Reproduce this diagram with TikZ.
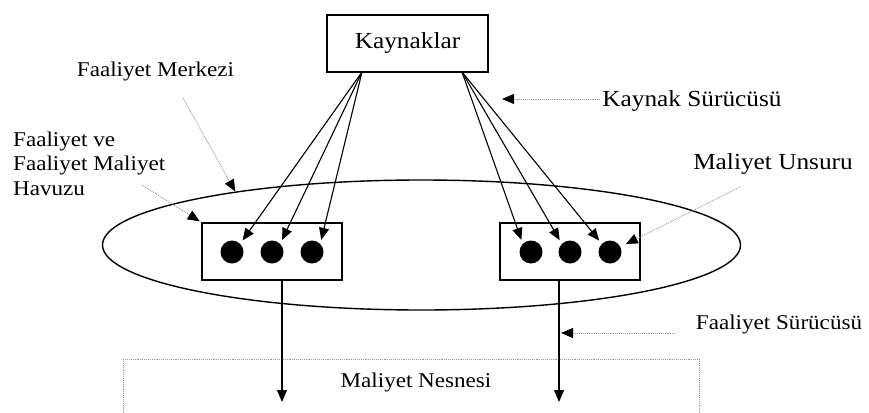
\documentclass[tikz,border=0pt]{standalone}
\usepackage{fontspec}
\setmainfont{Liberation Serif}[FakeStretch=1.1]
\usetikzlibrary{arrows.meta,shapes.geometric}
\begin{document}
\begin{tikzpicture}[x=1pt,y=1pt]
\tikzstyle{every node}+=[inner sep=0pt]
\tikzstyle{kutu}=[draw=black, line width=1.2pt]
\tikzstyle{nokta}=[circle, fill=black, minimum size=23pt]
\tikzstyle{ok}=[black, line width=1.1pt, -{Triangle[length=12pt,width=10pt]}]
\tikzstyle{isaret}=[gray!80, densely dotted, line width=0.9pt, -{Triangle[length=12pt,width=10pt,black]}]
\tikzstyle{buyuk}=[font=\fontsize{23}{27}\selectfont]
\tikzstyle{kucuk}=[font=\fontsize{21}{24.5}\selectfont]
\clip (0,0) rectangle (869,-412);
\fill [white] (0,0) rectangle (869,-412);
% merkez ve havuzlar
\node [ellipse, draw=black, line width=1.4pt, minimum width=638pt, minimum height=130pt] (merkez) at (421.5,-245) {};
\node [kutu, buyuk, minimum width=161pt, minimum height=57pt] (kaynak) at (407.5,-43.5) {Kaynaklar};
\node [kutu, minimum width=140pt, minimum height=57pt] (havuzSol) at (272,-251.5) {};
\node [kutu, minimum width=140pt, minimum height=57pt] (havuzSag) at (570,-251.5) {};
\node [nokta] (sol1) at (232,-252) {};
\node [nokta] (sol2) at (272,-252) {};
\node [nokta] (sol3) at (312,-252) {};
\node [nokta] (sag1) at (531,-252) {};
\node [nokta] (sag2) at (570,-252) {};
\node [nokta] (sag3) at (610,-252) {};
% kaynak suruculeri
\coordinate (kSol) at (362,-72);
\coordinate (kSag) at (462,-72);
\draw [ok, shorten >=4pt] (kSol) -- (sol1.north east);
\draw [ok, shorten >=4pt] (kSol) -- (sol2.north east);
\draw [ok, shorten >=4pt] (kSol) -- (sol3.north east);
\draw [ok, shorten >=4pt] (kSag) -- (sag1.north west);
\draw [ok, shorten >=4pt] (kSag) -- (sag2.north west);
\draw [ok, shorten >=4pt] (kSag) -- (sag3.north west);
% maliyet nesnesi
\draw [gray!80, densely dotted, line width=0.9pt] (123,-359) rectangle (699,-440);
\node [kucuk, anchor=base] (nesne) at (416,-387) {Maliyet Nesnesi};
\coordinate (nSol) at (282,-402);
\coordinate (nSag) at (559,-402);
\draw [ok] (282,-280) -- (nSol);
\draw [ok] (559,-280) -- (nSag);
% etiketler
\node [kucuk, anchor=base] (fMerkez) at (155.5,-77) {Faaliyet Merkezi};
\node [kucuk, anchor=north west, align=left] (fHavuz) at (13,-131.5) {Faaliyet ve\\Faaliyet Maliyet\\Havuzu};
\node [buyuk, anchor=base] (kSurucu) at (692,-106) {Kaynak Sürücüsü};
\node [buyuk, anchor=base] (mUnsur) at (773,-169) {Maliyet Unsuru};
\node [kucuk, anchor=base] (fSurucu) at (779,-329) {Faaliyet Sürücüsü};
\coordinate (fMerkezUc) at (183,-98);
\coordinate (fHavuzUc) at (142,-185);
\coordinate (kSurucuUc) at (600,-99);
\coordinate (kSurucuHedef) at (502,-99);
\coordinate (mUnsurUc) at (740,-187);
\coordinate (fSurucuUc) at (675,-333);
\coordinate (fSurucuHedef) at (561,-333);
\draw [isaret] (fMerkezUc) -- (merkez.164);
\draw [isaret, shorten >=2pt] (fHavuzUc) -- (havuzSol.north west);
\draw [isaret] (kSurucuUc) -- (kSurucuHedef);
\draw [isaret, shorten >=6pt] (mUnsurUc) -- (sag3);
\draw [isaret] (fSurucuUc) -- (fSurucuHedef);
\end{tikzpicture}
\end{document}
